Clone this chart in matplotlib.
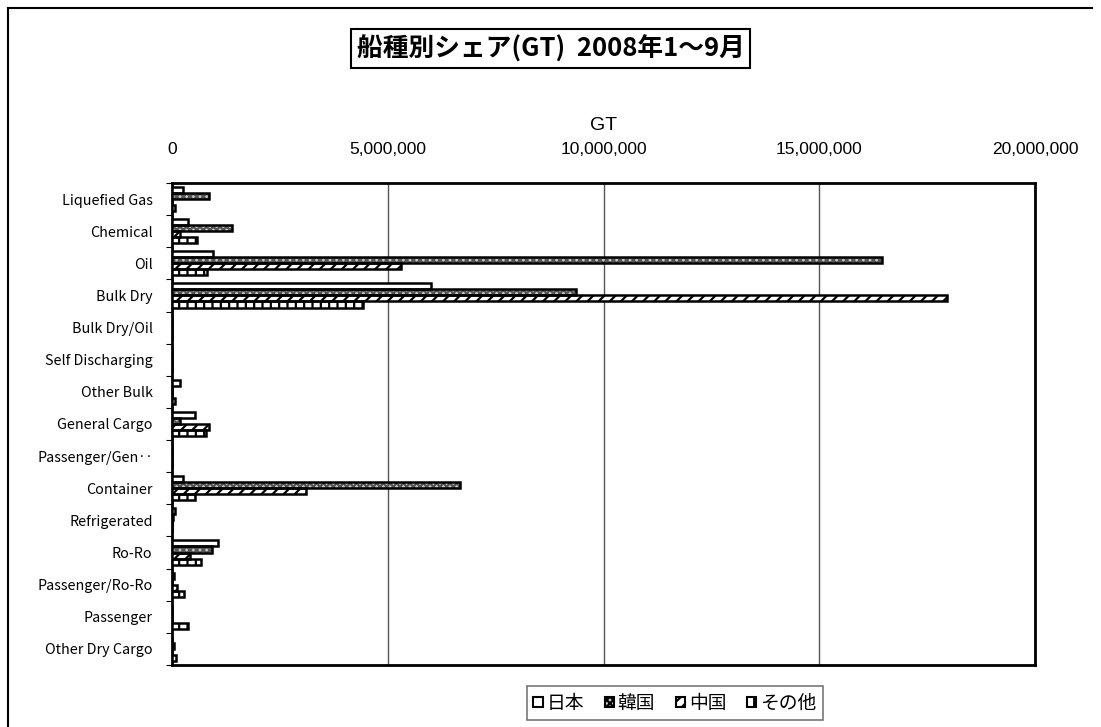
import matplotlib
matplotlib.use("Agg")
import matplotlib.pyplot as plt
from matplotlib.patches import Patch
from matplotlib.lines import Line2D
from matplotlib.ticker import FuncFormatter
import numpy as np

plt.rcParams['font.family'] = ['Noto Sans CJK JP', 'DejaVu Sans']
plt.rcParams['hatch.linewidth'] = 1.6

# データ (GT)
categories = ['Liquefied Gas', 'Chemical', 'Oil', 'Bulk Dry', 'Bulk Dry/Oil',
              'Self Discharging', 'Other Bulk', 'General Cargo', 'Passenger/Gen‥',
              'Container', 'Refrigerated', 'Ro-Ro', 'Passenger/Ro-Ro',
              'Passenger', 'Other Dry Cargo']
series_names = ['日本', '韓国', '中国', 'その他']
japan = [250000, 360000, 960000, 6010000, 0, 0, 180000, 530000, 0,
         250000, 80000, 1060000, 50000, 0, 0]
korea = [860000, 1390000, 16460000, 9370000, 0, 0, 0, 180000, 0,
         6670000, 30000, 920000, 0, 0, 50000]
china = [0, 180000, 5310000, 17950000, 0, 0, 0, 860000, 0,
         3110000, 0, 420000, 110000, 0, 0]
others = [70000, 580000, 820000, 4430000, 0, 0, 70000, 790000, 0,
          530000, 0, 670000, 280000, 360000, 90000]

series = [japan, korea, china, others]
fills = ['white', '#c8c8c8', 'white', 'white']
hatch_cols = ['white', '#555555', 'black', 'black']
hatches = [None, 'xxxxx', '///', '||']

fig = plt.figure(figsize=(11.01, 7.27), dpi=100)
ax = fig.add_axes([0.1562, 0.0853, 0.7840, 0.6630])

y = np.arange(len(categories))
h = 0.1875
for k, vals in enumerate(series):
    pos = y + (k - 1.5) * h
    ax.barh(pos, vals, height=h, color=fills[k], hatch=hatches[k],
            edgecolor=hatch_cols[k], linewidth=0, zorder=3)
    ax.barh(pos, vals, height=h, fill=False, edgecolor='black',
            linewidth=1.8, zorder=4)

ax.set_xlim(0, 20000000)
ax.set_ylim(len(categories) - 0.5, -0.5)
ax.set_xticks([0, 5000000, 10000000, 15000000, 20000000])
ax.xaxis.set_major_formatter(FuncFormatter(lambda v, p: f'{int(v):,}'))
ax.xaxis.tick_top()
ax.xaxis.set_label_position('top')
ax.tick_params(axis='x', length=0, pad=19, labelsize=12.5)
for lab in ax.get_xticklabels():
    lab.set_family(['Liberation Sans', 'DejaVu Sans'])
ax.set_xlabel('GT', fontsize=14, labelpad=8, family=['Liberation Sans', 'DejaVu Sans'])
ax.grid(axis='x', color='#555555', linewidth=1, zorder=0)

ax.set_yticks(y)
ax.set_yticklabels(categories, fontsize=10.3)
ax.tick_params(axis='y', which='major', length=0, pad=14)
ax.set_yticks(np.arange(len(categories) + 1) - 0.5, minor=True)
ax.tick_params(axis='y', which='minor', length=4, width=0.8, direction='out')
for s in ax.spines.values():
    s.set_linewidth(2)
    s.set_color('black')

# 凡例
handles = [Patch(facecolor=fills[k], edgecolor='black', hatch=hatches[k],
                 linewidth=1.5) for k in range(4)]
leg = fig.legend(handles, series_names, loc='center', ncol=4,
                 bbox_to_anchor=(0.613, 0.033), fontsize=13.5,
                 frameon=True, fancybox=False, edgecolor='#555555',
                 handlelength=0.5, handleheight=0.5, handletextpad=0.2,
                 columnspacing=1.1, borderpad=0.35)
leg.get_frame().set_linewidth(1.2)

# タイトル
fig.text(0.5, 0.933, '船種別シェア(GT)  2008年1～9月', ha='center', va='center',
         fontsize=18.5, fontweight='bold',
         bbox=dict(boxstyle='square,pad=0.22', facecolor='white',
                   edgecolor='black', linewidth=1.5))

# 外枠
fig.add_artist(Line2D([0.0073, 0.0073], [0, 0.989], transform=fig.transFigure,
                      color='black', linewidth=1.5))
fig.add_artist(Line2D([0.0073, 0.992], [0.989, 0.989], transform=fig.transFigure,
                      color='black', linewidth=1.5))

fig.savefig('out.png', dpi=100)
